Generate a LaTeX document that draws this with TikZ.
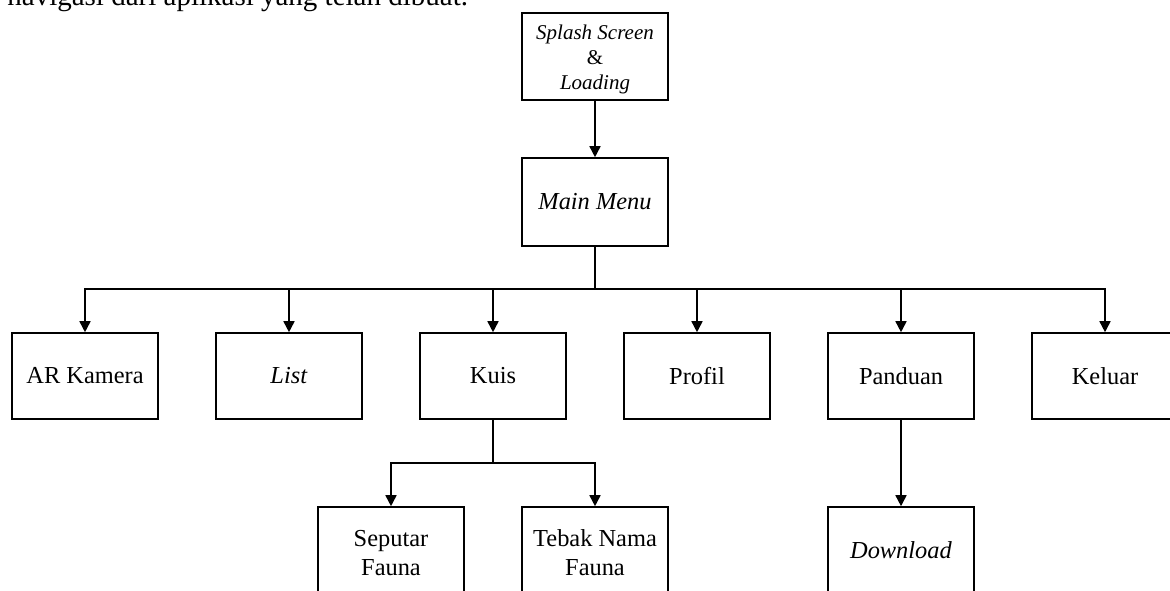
\documentclass[tikz,border=0pt]{standalone}
\usepackage{fontspec}
\setmainfont{Liberation Serif}
\usetikzlibrary{arrows.meta}
\tikzset{
  box/.style={draw, line width=0.8pt, minimum width=73pt, minimum height=43pt, inner sep=1pt, align=center, font=\fontsize{12.2}{14.5}\selectfont},
  smallbox/.style={box, font=\fontsize{10.5}{12.3}\selectfont},
  line/.style={line width=0.8pt},
  arr/.style={line, -{Triangle[length=5.5pt,width=5.5pt]}},
}
\begin{document}
\begin{tikzpicture}[x=0.5pt,y=-0.5pt]
\useasboundingbox (0,0) rectangle (1170,590);
\clip (0,0) rectangle (1170,590);
\node[anchor=base west, inner sep=0pt, font=\fontsize{14.5}{17}\selectfont] (intro) at (7,5) {navigasi dari aplikasi yang telah dibuat.};
\node[smallbox, minimum height=43.5pt] (splash) at (595,56.5) {\rule{0pt}{10.3pt}\textit{Splash Screen}\\\&\\\textit{Loading}};
\node[box, minimum height=44pt] (main) at (595,202) {\textit{Main Menu}};
\node[box] (ar) at (85,376) {AR Kamera};
\node[box] (list) at (289,376) {\textit{List}};
\node[box] (kuis) at (493,376) {Kuis};
\node[box] (profil) at (697,376) {Profil};
\node[box] (panduan) at (901,376) {Panduan};
\node[box] (keluar) at (1105,376) {Keluar};
\node[box] (seputar) at (391,550) {\rule{0pt}{11.3pt}Seputar\\Fauna};
\node[box] (tebak) at (595,550) {\rule{0pt}{11.3pt}Tebak Nama\\Fauna};
\node[box] (download) at (901,550) {\textit{Download}};
\coordinate (bus) at (595,289);
\coordinate (kbus) at (493,463);
\draw[arr] (splash) -- (main);
\draw[line] (main.south) -- (bus);
\foreach \c in {ar,list,kuis,profil,panduan,keluar}
  \draw[arr] (bus) -| (\c.north);
\draw[line] (kuis.south) -- (kbus);
\draw[arr] (kbus) -| (seputar.north);
\draw[arr] (kbus) -| (tebak.north);
\draw[arr] (panduan) -- (download);
\end{tikzpicture}
\end{document}
